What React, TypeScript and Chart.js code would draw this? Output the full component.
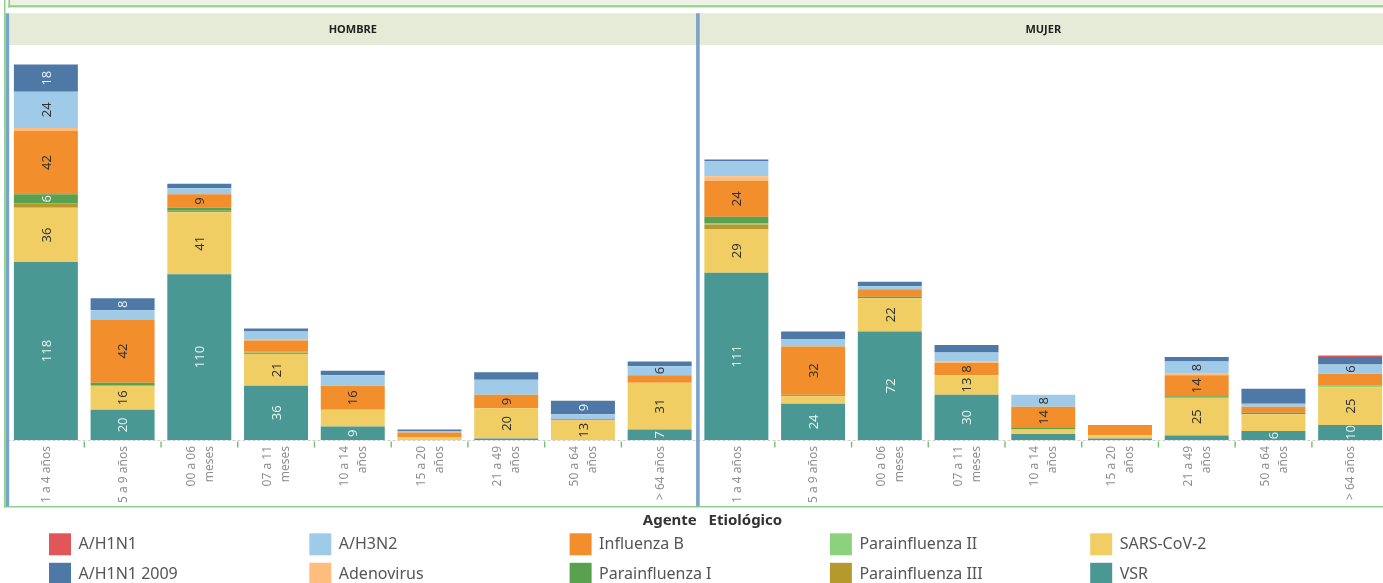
import { useEffect, useRef } from "react";
import { Chart, registerables } from "chart.js";

Chart.register(...registerables);

// Age groups (same order in both panels)
const ageGroups = [
  "1 a 4 años",
  "5 a 9 años",
  "00 a 06 meses",
  "07 a 11 meses",
  "10 a 14 años",
  "15 a 20 años",
  "21 a 49 años",
  "50 a 64 años",
  "> 64 años",
];
// How each age label wraps on the axis
const ageTickLines = [
  ["1 a 4 años"],
  ["5 a 9 años"],
  ["00 a 06", "meses"],
  ["07 a 11", "meses"],
  ["10 a 14", "años"],
  ["15 a 20", "años"],
  ["21 a 49", "años"],
  ["50 a 64", "años"],
  ["> 64 años"],
];
const sexes = ["HOMBRE", "MUJER"];

// Agents, legend order
const agents = [
  "A/H1N1",
  "A/H1N1 2009",
  "A/H3N2",
  "Adenovirus",
  "Influenza B",
  "Parainfluenza I",
  "Parainfluenza II",
  "Parainfluenza III",
  "SARS-CoV-2",
  "VSR",
];
const agentColors = [
  "#e15759",
  "#4e79a7",
  "#a0cbe8",
  "#ffbe7d",
  "#f28e2b",
  "#59a14f",
  "#8cd17d",
  "#b6992d",
  "#f1ce63",
  "#499894",
];
// Agents whose value labels are written in light text
const lightTextAgents = ["A/H1N1 2009", "Parainfluenza I", "VSR"];

// Cases per age group - HOMBRE
const hombreH1N1 = [0, 0, 0, 0, 0, 0, 0, 0, 0];
const hombreH1N12009 = [18, 8, 3, 2, 3, 1, 5, 9, 3];
const hombreH3N2 = [24, 6, 4, 5, 7, 1, 10, 3, 6];
const hombreAdenovirus = [2, 0, 0, 1, 0, 0, 0, 0, 0];
const hombreInfluenzaB = [42, 42, 9, 7, 16, 3, 9, 1, 5];
const hombreParaI = [6, 2, 2, 0, 0, 0, 0, 0, 0];
const hombreParaII = [0, 0, 0, 1, 0, 0, 0, 0, 0];
const hombreParaIII = [3, 0, 1, 1, 0, 0, 0, 0, 0];
const hombreSARS = [36, 16, 41, 21, 11, 2, 20, 13, 31];
const hombreVSR = [118, 20, 110, 36, 9, 0, 1, 0, 7];

// Cases per age group - MUJER
const mujerH1N1 = [0, 0, 0, 0, 0, 0, 0, 0, 1];
const mujerH1N12009 = [1, 5, 3, 5, 0, 0, 3, 10, 5];
const mujerH3N2 = [10, 5, 2, 6, 8, 0, 8, 2, 6];
const mujerAdenovirus = [3, 0, 0, 1, 0, 0, 1, 0, 0];
const mujerInfluenzaB = [24, 32, 5, 8, 14, 7, 14, 4, 8];
const mujerParaI = [4, 0, 1, 0, 1, 0, 1, 1, 0];
const mujerParaII = [1, 0, 0, 0, 0, 0, 0, 0, 1];
const mujerParaIII = [3, 1, 0, 0, 0, 0, 0, 0, 0];
const mujerSARS = [29, 5, 22, 13, 3, 2, 25, 11, 25];
const mujerVSR = [111, 24, 72, 30, 4, 1, 3, 6, 10];

const hombreSeries = [
  hombreH1N1, hombreH1N12009, hombreH3N2, hombreAdenovirus, hombreInfluenzaB,
  hombreParaI, hombreParaII, hombreParaIII, hombreSARS, hombreVSR,
];
const mujerSeries = [
  mujerH1N1, mujerH1N12009, mujerH3N2, mujerAdenovirus, mujerInfluenzaB,
  mujerParaI, mujerParaII, mujerParaIII, mujerSARS, mujerVSR,
];

// Age-group indices whose segment shows its count
const hombreLabelled: Record<string, number[]> = {
  VSR: [0, 1, 2, 3, 4, 8],
  "SARS-CoV-2": [0, 1, 2, 3, 6, 7, 8],
  "Parainfluenza I": [0],
  "Influenza B": [0, 1, 2, 4, 6],
  "A/H3N2": [0, 8],
  "A/H1N1 2009": [0, 1, 7],
};
const mujerLabelled: Record<string, number[]> = {
  VSR: [0, 1, 2, 3, 7, 8],
  "SARS-CoV-2": [0, 2, 3, 6, 8],
  "Influenza B": [0, 1, 3, 4, 6],
  "A/H3N2": [4, 6, 8],
};

const Y_MAX = 262;
const FONT = '"Noto Sans", "DejaVu Sans", sans-serif';
const CANVAS_W = 1392;
const CANVAS_H = 583;

const frame = {
  id: "tableFrame",
  beforeDraw(chart: any) {
    const { ctx, chartArea } = chart;
    const W = chart.width;
    const catW = (chartArea.right - chartArea.left) / (ageGroups.length * sexes.length);
    ctx.save();
    ctx.fillStyle = "#ffffff";
    ctx.fillRect(0, 0, W, chart.height);

    // strip of the block above
    ctx.fillStyle = "#eef1e4";
    ctx.fillRect(9, 0, W, 6);
    ctx.fillStyle = "#8fd28a";
    ctx.fillRect(8.3, 5.2, W, 2.2);
    ctx.fillRect(8.3, 0, 1.8, 7.4);

    // outer frame
    ctx.fillRect(4, 0, 1.5, 507.5);
    ctx.fillRect(4, 506, W, 1.5);

    // panel headers
    ctx.fillStyle = "#e6ebd7";
    ctx.fillRect(9.3, 13.3, W, 31.7);
    ctx.fillStyle = "#222222";
    ctx.font = `bold 11px ${FONT}`;
    ctx.textAlign = "center";
    ctx.textBaseline = "middle";
    sexes.forEach((s, p) => {
      const left = chartArea.left + p * ageGroups.length * catW;
      const cx = left + (ageGroups.length * catW) / 2;
      ctx.fillText(s, cx, 29.5);
    });
    ctx.restore();
  },
  beforeDatasetsDraw(chart: any) {
    const { ctx, chartArea } = chart;
    ctx.save();
    ctx.strokeStyle = "#cfcfcf";
    ctx.lineWidth = 1;
    ctx.setLineDash([3, 2]);
    ctx.beginPath();
    ctx.moveTo(chartArea.left, chartArea.bottom + 0.5);
    ctx.lineTo(chartArea.right, chartArea.bottom + 0.5);
    ctx.stroke();
    ctx.restore();
  },
  afterDatasetsDraw(chart: any) {
    const { ctx } = chart;
    ctx.save();
    ctx.font = `13px ${FONT}`;
    ctx.textAlign = "center";
    ctx.textBaseline = "middle";
    chart.data.datasets.forEach((ds: any, di: number) => {
      const meta = chart.getDatasetMeta(di);
      const agent = ds.label as string;
      meta.data.forEach((el: any, i: number) => {
        const panel = Math.floor(i / ageGroups.length);
        const idx = i % ageGroups.length;
        const lab = (panel === 0 ? hombreLabelled : mujerLabelled)[agent];
        if (!lab || !lab.includes(idx)) return;
        const v = ds.data[i];
        const { x, y, base } = el.getProps(["x", "y", "base"], true);
        ctx.save();
        ctx.translate(x, (y + base) / 2);
        ctx.rotate(-Math.PI / 2);
        ctx.fillStyle = lightTextAgents.includes(agent) ? "rgba(240,248,248,0.92)" : "#333333";
        ctx.fillText(String(v), 0, 1);
        ctx.restore();
      });
    });
    ctx.restore();
  },
  afterDraw(chart: any) {
    const { ctx, chartArea } = chart;
    const xs = chart.scales.x;
    const n = ageGroups.length;
    const catW = (chartArea.right - chartArea.left) / (n * sexes.length);
    ctx.save();

    // pane dividers
    ctx.fillStyle = "#79a3c9";
    for (let p = 0; p < sexes.length; p++) {
      const b = chartArea.left + p * n * catW;
      ctx.fillRect(b - 1.9, 13.3, 3.6, 493);
    }

    // ticks between age groups
    ctx.fillStyle = "#72c06e";
    for (let p = 0; p < sexes.length; p++) {
      for (let k = 1; k < n; k++) {
        const bx = chartArea.left + (p * n + k) * catW;
        ctx.fillRect(bx - 0.6, chartArea.bottom + 1.5, 1.4, 6);
      }
    }

    // age labels, rotated
    ctx.font = `12px ${FONT}`;
    ctx.fillStyle = "#8f8f8f";
    ctx.textAlign = "right";
    ctx.textBaseline = "middle";
    for (let i = 0; i < n * sexes.length; i++) {
      const cx = xs.getPixelForValue(i);
      const lines = ageTickLines[i % n];
      lines.forEach((line, li) => {
        const off = (li - (lines.length - 1) / 2) * 18 + 0.8;
        ctx.save();
        ctx.translate(cx + off, chartArea.bottom + 6);
        ctx.rotate(-Math.PI / 2);
        ctx.fillText(line, 0, 0);
        ctx.restore();
      });
    }

    // legend
    ctx.fillStyle = "#333333";
    ctx.font = `bold 15px ${FONT}`;
    ctx.textAlign = "center";
    ctx.fillText("Agente   Etiológico", 712.5, 521);
    ctx.font = `16px ${FONT}`;
    ctx.textAlign = "left";
    agents.forEach((a, i) => {
      const col = Math.floor(i / 2);
      const row = i % 2;
      const sx = 49 + col * 260.3;
      const sy = 533.3 + row * 29.5;
      ctx.fillStyle = agentColors[i];
      ctx.fillRect(sx, sy, 22, 22);
      ctx.fillStyle = "#555555";
      ctx.fillText(a, sx + 29.5, sy + 11.5);
    });
    ctx.restore();
  },
};

export default function App() {
  const canvasRef = useRef<HTMLCanvasElement | null>(null);

  useEffect(() => {
    const canvas = canvasRef.current;
    if (!canvas) return;
    const labels: string[] = [];
    sexes.forEach((s) => ageGroups.forEach((a) => labels.push(`${s} · ${a}`)));

    // stacked bottom-to-top: reverse of legend order
    const datasets = agents
      .map((a, i) => ({
        label: a,
        data: [...hombreSeries[i], ...mujerSeries[i]],
        backgroundColor: agentColors[i],
        borderWidth: 0,
        categoryPercentage: 1,
        barPercentage: 0.834,
      }))
      .reverse();

    const chart = new Chart(canvas, {
      type: "bar",
      data: { labels, datasets },
      options: {
        animation: false,
        responsive: false,
        devicePixelRatio: 1,
        layout: { padding: { left: 7.5, right: CANVAS_W - 1388.5, top: 45, bottom: CANVAS_H - 440 } },
        plugins: { legend: { display: false }, tooltip: { enabled: false } },
        scales: {
          x: { stacked: true, display: false, grid: { display: false } },
          y: { stacked: true, display: false, min: 0, max: Y_MAX, grid: { display: false } },
        },
      },
      plugins: [frame],
    });
    return () => chart.destroy();
  }, []);

  return (
    <div
      style={{
        position: "fixed",
        left: 0,
        top: 0,
        width: 1383,
        height: 583,
        overflow: "hidden",
        background: "#ffffff",
      }}
    >
      <canvas ref={canvasRef} width={CANVAS_W} height={CANVAS_H} style={{ display: "block", width: CANVAS_W, height: CANVAS_H }} />
    </div>
  );
}
